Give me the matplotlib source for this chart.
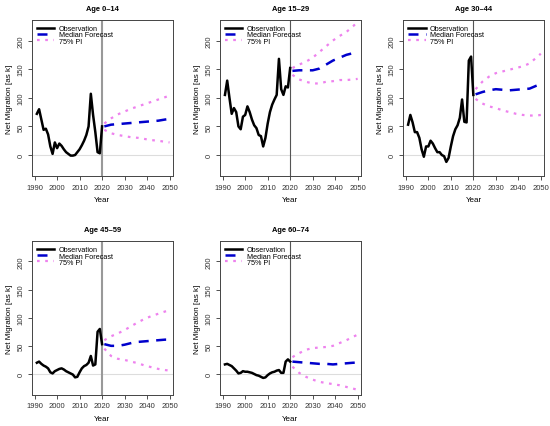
import matplotlib
matplotlib.use('Agg')
import matplotlib.pyplot as plt

plt.rcParams['font.family'] = ['Liberation Sans', 'DejaVu Sans']

titles = ['Age 0\u201314', 'Age 15\u201329', 'Age 30\u201344', 'Age 45\u201359', 'Age 60\u201374']

obs_years = list(range(1991, 2021))
fc_years = [2021, 2024, 2027, 2030, 2033, 2036, 2039, 2042, 2045, 2048, 2050]

obs_0_14 = [72, 80, 62, 44, 46, 36, 15, 2, 22, 12, 20, 16, 10, 5, 2, -1, -1, 0, 5, 10,
            17, 25, 35, 50, 107, 70, 40, 5, 3, 50]
obs_15_29 = [105, 130, 100, 72, 82, 75, 50, 45, 67, 70, 85, 75, 62, 52, 47, 35, 33, 15, 30, 55,
             75, 88, 97, 105, 168, 115, 105, 120, 118, 152]
obs_30_44 = [53, 70, 57, 40, 40, 30, 10, -3, 15, 15, 25, 20, 12, 5, 5, 0, -2, -12, -5, 15,
             33, 45, 52, 65, 97, 58, 57, 165, 172, 105]
obs_45_59 = [20, 22, 18, 15, 13, 10, 3, 1, 5, 7, 9, 10, 8, 5, 3, 1, -1, -6, -5, 3,
             10, 14, 16, 20, 32, 15, 17, 75, 80, 53]
obs_60_74 = [17, 18, 16, 14, 10, 6, 1, 2, 5, 4, 4, 3, 2, 0, -2, -3, -5, -7, -6, -2,
             1, 3, 4, 6, 7, 2, 2, 22, 26, 22]

med_0_14 = [50, 53, 54, 55, 56, 57, 58, 59, 60, 62, 63]
upp_0_14 = [55, 64, 71, 76, 81, 85, 89, 93, 97, 101, 104]
low_0_14 = [44, 38, 35, 33, 31, 30, 28, 26, 25, 23, 22]

med_15_29 = [147, 148, 148, 148, 151, 158, 165, 170, 175, 178, 182]
upp_15_29 = [152, 158, 163, 170, 180, 190, 200, 208, 215, 225, 233]
low_15_29 = [140, 132, 128, 125, 125, 128, 129, 131, 131, 132, 133]

med_30_44 = [106, 110, 113, 115, 114, 113, 114, 115, 116, 121, 124]
upp_30_44 = [115, 128, 137, 143, 146, 149, 152, 155, 160, 170, 177]
low_30_44 = [98, 90, 85, 82, 78, 75, 72, 70, 69, 69, 70]

med_45_59 = [53, 50, 50, 52, 55, 57, 58, 59, 60, 61, 61]
upp_45_59 = [60, 67, 72, 78, 85, 92, 98, 103, 107, 111, 113]
low_45_59 = [45, 32, 27, 25, 22, 19, 15, 12, 9, 7, 6]

med_60_74 = [22, 21, 20, 19, 18, 18, 17, 18, 19, 20, 20]
upp_60_74 = [30, 37, 43, 46, 47, 48, 50, 55, 60, 66, 70]
low_60_74 = [13, 2, -5, -10, -14, -16, -18, -20, -23, -26, -28]

panels = [
    (obs_0_14, med_0_14, upp_0_14, low_0_14),
    (obs_15_29, med_15_29, upp_15_29, low_15_29),
    (obs_30_44, med_30_44, upp_30_44, low_30_44),
    (obs_45_59, med_45_59, upp_45_59, low_45_59),
    (obs_60_74, med_60_74, upp_60_74, low_60_74),
]

# axes boxes in figure fractions (left, bottom, width, height)
lefts = [0.058, 0.400, 0.733]
boxes = [(lefts[0], 0.585, 0.256, 0.366),
         (lefts[1], 0.585, 0.256, 0.366),
         (lefts[2], 0.585, 0.256, 0.366),
         (lefts[0], 0.073, 0.256, 0.360),
         (lefts[1], 0.073, 0.256, 0.360)]

# the 2020 divider looks lighter/thicker in the left column panels
vline_styles = [('#999999', 1.5), ('#555555', 0.8), ('#555555', 0.8),
                ('#999999', 1.5), ('#555555', 0.8)]

fig = plt.figure(figsize=(5.5, 4.27), dpi=100)

for i, (obs, med, upp, low) in enumerate(panels):
    ax = fig.add_axes(boxes[i])
    ax.axhline(0, color='#dddddd', lw=0.8, zorder=0)
    vc, vw = vline_styles[i]
    ax.axvline(2020, color=vc, lw=vw, zorder=1)
    ax.plot(obs_years, obs, color='black', lw=1.8, label='Observation')
    ax.plot(fc_years, med, color='#0000cc', lw=1.8, ls=(0, (4, 3)), label='Median Forecast')
    ax.plot(fc_years, upp, color='violet', lw=1.6, ls=(0, (1.2, 2.5)), label='75% PI')
    ax.plot(fc_years, low, color='violet', lw=1.6, ls=(0, (1.2, 2.5)))
    ax.set_xlim(1988.8, 2051.4)
    ax.set_ylim(-37, 236)
    ax.set_xticks([1990, 2000, 2010, 2020, 2030, 2040, 2050])
    ax.set_yticks([0, 50, 100, 150, 200])
    ax.tick_params(labelsize=5.5, length=3, width=0.6, colors='#333333', pad=2.5)
    for lab in ax.get_yticklabels():
        lab.set_rotation(90)
        lab.set_va('center')
    for sp in ax.spines.values():
        sp.set_linewidth(0.7)
        sp.set_color('#444444')
    ax.set_xlabel('Year', fontsize=5.8, labelpad=4)
    ax.set_ylabel('Net Migration [as k]', fontsize=5.8, labelpad=3)
    ax.set_title(titles[i], fontsize=5.4, fontweight='bold', pad=7)
    ax.legend(loc='upper left', frameon=False, fontsize=5.2, handlelength=2.4,
              labelspacing=-0.1, borderpad=0.4, handletextpad=0.6,
              borderaxespad=0.3)

fig.savefig('out.png', dpi=100)
